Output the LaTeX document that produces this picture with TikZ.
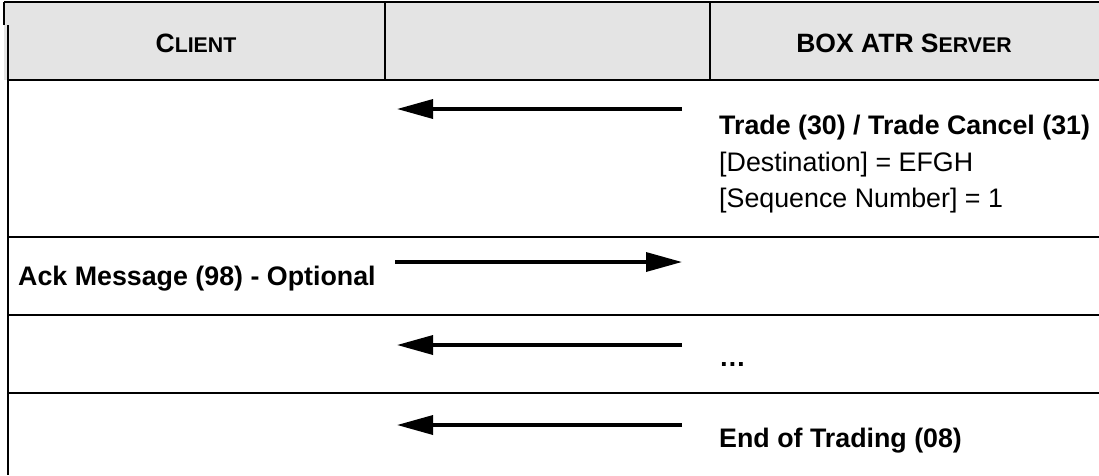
\documentclass[tikz,border=0pt]{standalone}
\usepackage{fontspec}
\setmainfont{Liberation Sans}
\usetikzlibrary{arrows.meta}
\definecolor{hdrgray}{HTML}{E4E4E4}
\begin{document}
\begin{tikzpicture}[x=1pt,y=-1pt,
  msg/.style={line width=3.4pt,-{Triangle[length=36pt,width=19pt]}},
  hdr/.style={font=\fontsize{26.5}{30}\selectfont\bfseries, anchor=base, inner sep=0pt},
  lbl/.style={font=\fontsize{26.8}{30}\selectfont\bfseries, anchor=base west, inner sep=0pt},
  txt/.style={font=\fontsize{26.8}{30}\selectfont, anchor=base west, inner sep=0pt},
  rowrule/.style={line width=1.6pt},
  hdrrule/.style={line width=2.4pt}]
\useasboundingbox (0,0) rectangle (1099,475);
% header
\fill[hdrgray] (4,2) rectangle (1099,80);
\draw[rowrule] (4,2) -- (1099,2);
\draw[rowrule] (4,2) -- (4,25);
\draw[rowrule] (8,25) -- (8,475);
\draw[hdrrule] (8,80) -- (1099,80);
\draw[hdrrule] (385,2) -- (385,80);
\draw[hdrrule] (710,2) -- (710,80);
% row rules
\draw[rowrule] (8,237) -- (1099,237);
\draw[rowrule] (8,315) -- (1099,315);
\draw[rowrule] (8,393) -- (1099,393);
% header texts
\node[hdr] (client) at (196,52) {C{\fontsize{21.3}{24}\selectfont LIENT}};
\node[hdr] (server) at (904,52) {BOX ATR S{\fontsize{21.3}{24}\selectfont ERVER}};
% messages
\node[lbl] (trade) at (719,134) {Trade (30) / Trade Cancel (31)};
\node[txt] (dest) at (719,171) {[Destination] = EFGH};
\node[txt] (seq) at (719,207) {[Sequence Number] = 1};
\node[lbl] (ack) at (18,285) {Ack Message (98) - Optional};
\node[lbl] (dots) at (719,366) {…};
\node[lbl] (eot) at (719,447) {End of Trading (08)};
% arrows
\coordinate (a1s) at (682,109); \coordinate (a1e) at (397,109);
\coordinate (a2s) at (395,262); \coordinate (a2e) at (682,262);
\coordinate (a3s) at (682,345); \coordinate (a3e) at (397,345);
\coordinate (a4s) at (682,425); \coordinate (a4e) at (397,425);
\draw[msg] (a1s) -- (a1e);
\draw[msg] (a2s) -- (a2e);
\draw[msg] (a3s) -- (a3e);
\draw[msg] (a4s) -- (a4e);
\end{tikzpicture}
\end{document}
